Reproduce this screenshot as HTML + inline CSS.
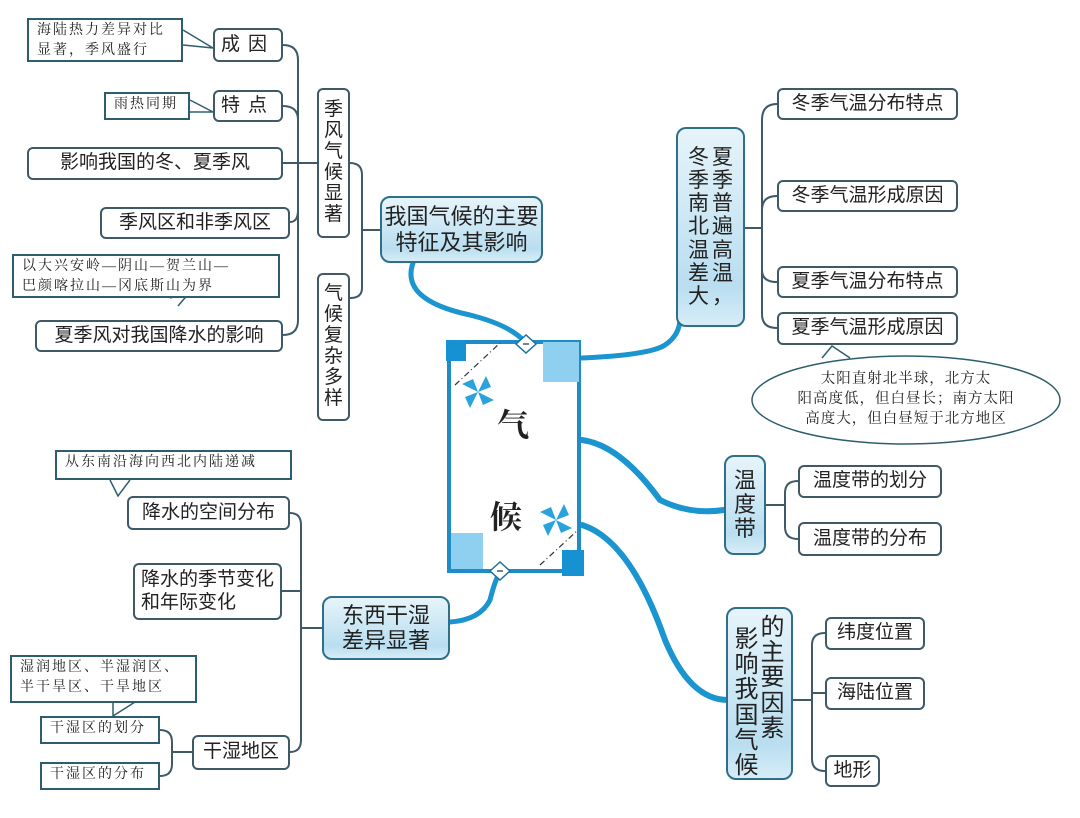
<!DOCTYPE html>
<html><head><meta charset="utf-8">
<style>
body{margin:0;background:#fff;}
#c{position:relative;width:1080px;height:818px;overflow:hidden;font-family:"Liberation Sans","Noto Sans CJK SC",sans-serif;color:#222;}
.b{position:absolute;box-sizing:border-box;border:2px solid #3f5a66;border-radius:6px;background:#fff;display:flex;align-items:center;justify-content:center;font-size:19px;line-height:1.2;white-space:nowrap;}
.m{position:absolute;box-sizing:border-box;border:2px solid #2f6f8a;border-radius:10px;background:linear-gradient(#e6f4fa,#b9def0 80%,#d6edf7);display:flex;align-items:center;justify-content:center;font-size:22px;line-height:1.15;text-align:center;}
.n{position:absolute;box-sizing:border-box;border:2px solid #2e5e6e;background:#fff;font-family:"Liberation Serif","Noto Serif CJK SC",serif;font-size:14px;line-height:20px;letter-spacing:2px;padding:1px 8px;white-space:nowrap;}
.v{display:flex;flex-direction:column;align-items:center;line-height:1.1;}
svg{position:absolute;left:0;top:0;}
</style></head><body><div id="c">
<svg width="1080" height="818">
<g fill="none" stroke="#3f5a66" stroke-width="2">
<path d="M283 45 Q298 45 298 60 V320 Q298 335 283 335"/>
<path d="M283 106 Q298 106 298 120"/>
<path d="M283 163 H317"/>
<path d="M290 222 Q298 222 298 210"/>
<path d="M350 163 Q362 163 362 175 V288 Q362 298 350 298"/>
<path d="M362 230 H380"/>
<path d="M777 104 Q762 104 762 120 V314 Q762 328 777 328"/>
<path d="M777 196 Q762 196 762 210"/><path d="M777 282 Q762 282 762 270"/>
<path d="M745 228 H762"/>
<path d="M798 481 Q785 481 785 493 V527 Q785 539 798 539"/><path d="M766 505 H785"/>
<path d="M825 633 Q812 633 812 645 V759 Q812 771 825 771"/><path d="M825 693 H812"/><path d="M793 700 H812"/>
<path d="M290 513 Q301 513 301 525 V740 Q301 752 290 752"/><path d="M282 591 H301"/><path d="M301 628 H322"/>
<path d="M160 730 Q172 730 172 742 V764 Q172 776 160 776"/><path d="M172 752 H192"/>
</g>
<g fill="none" stroke="#1b95cf" stroke-linecap="round">
<path d="M413 263 Q400 300 470 315 Q510 325 525 342" stroke-width="5"/>
<path d="M582 358 Q650 355 665 345 Q680 335 680 318" stroke-width="5"/>
<path d="M582 440 Q620 445 660 500 Q690 515 724 510" stroke-width="6"/>
<path d="M582 525 Q630 540 665 640 Q690 700 728 700" stroke-width="6"/>
<path d="M450 622 Q480 620 490 600 Q495 580 500 572" stroke-width="5"/>
</g>
<rect x="449" y="342" width="130" height="229" fill="#fff" stroke="#1e8cc6" stroke-width="4"/>
<rect x="446" y="340" width="20" height="21" fill="#1692d2"/>
<rect x="543" y="342" width="36" height="40" fill="#8fd0f0"/>
<rect x="451" y="533" width="32" height="36" fill="#8fd0f0"/>
<rect x="562" y="550" width="22" height="26" fill="#1692d2"/>
<path d="M455 385 L500 343" stroke="#333" stroke-dasharray="6,3,1,3" stroke-width="1.2"/>
<path d="M540 565 L578 530" stroke="#333" stroke-dasharray="6,3,1,3" stroke-width="1.2"/>
<path d="M516 344 L526 335 L536 344 L526 353 Z" fill="#fff" stroke="#1e6fa0" stroke-width="1.5"/>
<path d="M523 344 h6" stroke="#000"/>
<path d="M490 571 L500 562 L510 571 L500 580 Z" fill="#fff" stroke="#1e6fa0" stroke-width="1.5"/>
<path d="M497 571 h6" stroke="#000"/>
<g fill="#2aa3dc">
<path d="M478 392 l-16 -8 l11 -5z M478 392 l8 -16 l5 11z M478 392 l16 8 l-11 5z M478 392 l-8 16 l-5 -11z"/>
<path d="M556 520 l-16 -8 l11 -5z M556 520 l8 -16 l5 11z M556 520 l16 8 l-11 5z M556 520 l-8 16 l-5 -11z"/>
</g>
<g fill="#fff" stroke="#2e5e6e" stroke-width="1.5">
<ellipse cx="906" cy="400" rx="154" ry="44"/>
</g>
<path d="M822 358 L832 346 L850 358" fill="#fff" stroke="#2e5e6e" stroke-width="1.5"/>
<path d="M183 30 L213 48 L183 45" fill="#fff" stroke="#2e5e6e" stroke-width="1.5"/>
<path d="M190 100 L213 112 L190 112" fill="#fff" stroke="#2e5e6e" stroke-width="1.5"/>
<path d="M170 298 L190 292 L178 306" fill="#fff" stroke="#2e5e6e" stroke-width="1.5"/>
<path d="M110 480 L118 496 L130 480" fill="#fff" stroke="#2e5e6e" stroke-width="1.5"/>
<path d="M113 702 L113 716 L135 702" fill="#fff" stroke="#2e5e6e" stroke-width="1.5"/>
</svg>

<div class="n" style="left:27px;top:18px;width:156px;height:44px;">海陆热力差异对比<br>显著，季风盛行</div>
<div class="b" style="left:213px;top:28px;width:70px;height:34px;letter-spacing:8px;">成因</div>
<div class="n" style="left:104px;top:92px;width:86px;height:28px;">雨热同期</div>
<div class="b" style="left:213px;top:90px;width:70px;height:32px;letter-spacing:8px;">特点</div>
<div class="b" style="left:27px;top:147px;width:256px;height:33px;">影响我国的冬、夏季风</div>
<div class="b" style="left:100px;top:207px;width:190px;height:32px;">季风区和非季风区</div>
<div class="n" style="left:12px;top:254px;width:268px;height:44px;">以大兴安岭—阴山—贺兰山—<br>巴颜喀拉山—冈底斯山为界</div>
<div class="b" style="left:35px;top:320px;width:248px;height:32px;">夏季风对我国降水的影响</div>
<div class="b" style="left:317px;top:88px;width:33px;height:150px;"><div class="v"><span>季</span><span>风</span><span>气</span><span>候</span><span>显</span><span>著</span></div></div>
<div class="b" style="left:317px;top:273px;width:33px;height:148px;"><div class="v"><span>气</span><span>候</span><span>复</span><span>杂</span><span>多</span><span>样</span></div></div>
<div class="m" style="left:380px;top:196px;width:163px;height:67px;">我国气候的主要<br>特征及其影响</div>

<div style="position:absolute;left:497px;top:400px;font-size:32px;font-weight:bold;font-family:'Liberation Serif','Noto Serif CJK SC',serif;">气</div>
<div style="position:absolute;left:490px;top:492px;font-size:32px;font-weight:bold;font-family:'Liberation Serif','Noto Serif CJK SC',serif;">候</div>

<div class="m" style="left:676px;top:127px;width:69px;height:200px;font-size:21px;"><div style="display:flex;gap:3px;"><div class="v"><span>冬</span><span>季</span><span>南</span><span>北</span><span>温</span><span>差</span><span>大</span></div><div class="v"><span>夏</span><span>季</span><span>普</span><span>遍</span><span>高</span><span>温</span><span>，</span></div></div></div>
<div class="b" style="left:777px;top:88px;width:181px;height:32px;">冬季气温分布特点</div>
<div class="b" style="left:777px;top:180px;width:181px;height:32px;">冬季气温形成原因</div>
<div class="b" style="left:777px;top:266px;width:181px;height:32px;">夏季气温分布特点</div>
<div class="b" style="left:777px;top:312px;width:181px;height:33px;">夏季气温形成原因</div>
<div style="position:absolute;left:760px;top:369px;width:292px;text-align:center;font-family:'Liberation Serif','Noto Serif CJK SC',serif;font-size:14.5px;line-height:20px;letter-spacing:1px;">太阳直射北半球，北方太<br>阳高度低，但白昼长；南方太阳<br>高度大，但白昼短于北方地区</div>

<div class="m" style="left:724px;top:455px;width:42px;height:100px;"><div class="v"><span>温</span><span>度</span><span>带</span></div></div>
<div class="b" style="left:798px;top:465px;width:144px;height:33px;">温度带的划分</div>
<div class="b" style="left:798px;top:522px;width:144px;height:34px;">温度带的分布</div>

<div class="m" style="left:726px;top:607px;width:67px;height:173px;font-size:24px;"><div style="display:flex;gap:2px;align-self:flex-start;margin-top:6px;"><div class="v" style="margin-top:12px;line-height:1.05;"><span>影</span><span>响</span><span>我</span><span>国</span><span>气</span><span>候</span></div><div class="v" style="line-height:1.05;"><span>的</span><span>主</span><span>要</span><span>因</span><span>素</span></div></div></div>
<div class="b" style="left:825px;top:617px;width:100px;height:33px;">纬度位置</div>
<div class="b" style="left:825px;top:677px;width:100px;height:33px;">海陆位置</div>
<div class="b" style="left:825px;top:755px;width:55px;height:32px;">地形</div>

<div class="n" style="left:55px;top:450px;width:237px;height:30px;">从东南沿海向西北内陆递减</div>
<div class="b" style="left:127px;top:496px;width:163px;height:34px;">降水的空间分布</div>
<div class="b" style="left:133px;top:563px;width:149px;height:57px;">降水的季节变化<br>和年际变化</div>
<div class="m" style="left:322px;top:596px;width:128px;height:64px;">东西干湿<br>差异显著</div>
<div class="n" style="left:10px;top:655px;width:187px;height:48px;">湿润地区、半湿润区、<br>半干旱区、干旱地区</div>
<div class="n" style="left:40px;top:716px;width:120px;height:28px;">干湿区的划分</div>
<div class="b" style="left:192px;top:735px;width:98px;height:35px;">干湿地区</div>
<div class="n" style="left:40px;top:762px;width:120px;height:28px;">干湿区的分布</div>
</div></body></html>
